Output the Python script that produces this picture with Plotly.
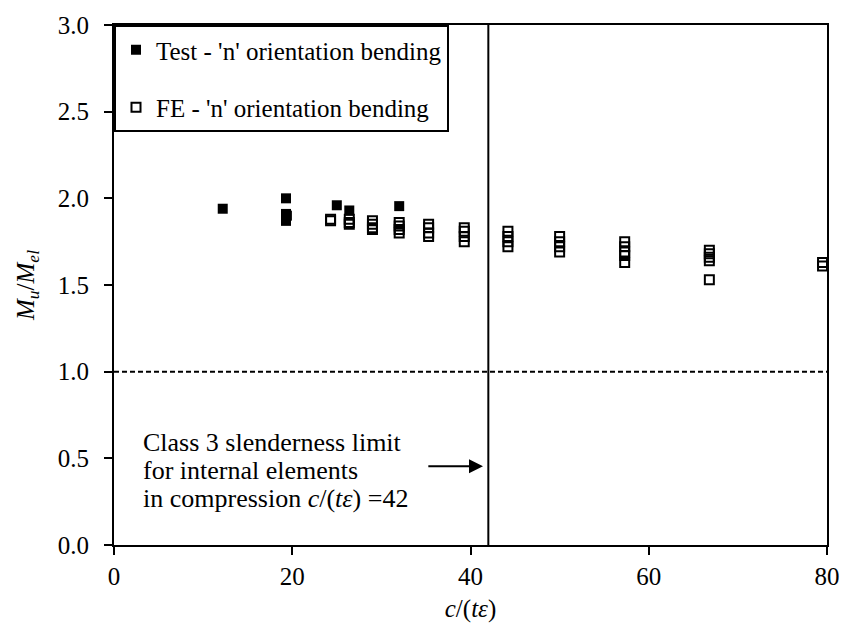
import plotly.graph_objects as go

# Test results, 'n' orientation bending
test_x = [12.2, 19.3, 19.3, 19.4, 19.3, 25.0, 26.4, 32.0]
test_y = [1.94, 2.00, 1.91, 1.90, 1.87, 1.96, 1.93, 1.955]

# FE results, 'n' orientation bending
fe_x = [24.3, 24.3,
        26.4, 26.4, 26.4,
        29.0, 29.0, 29.0, 29.0,
        32.0, 32.0, 32.0, 32.0,
        35.3, 35.3, 35.3, 35.3,
        39.3, 39.3, 39.3, 39.3,
        44.2, 44.2, 44.2, 44.2,
        50.0, 50.0, 50.0, 50.0,
        57.3, 57.3, 57.3, 57.3, 57.3,
        66.8, 66.8, 66.8, 66.8, 66.8,
        79.5, 79.5]
fe_y = [1.88, 1.87,
        1.88, 1.86, 1.85,
        1.87, 1.85, 1.83, 1.82,
        1.86, 1.84, 1.82, 1.80,
        1.85, 1.83, 1.80, 1.78,
        1.83, 1.81, 1.78, 1.75,
        1.81, 1.78, 1.75, 1.72,
        1.78, 1.75, 1.72, 1.69,
        1.75, 1.72, 1.69, 1.67, 1.63,
        1.70, 1.68, 1.66, 1.64, 1.53,
        1.63, 1.61]

class3_limit = 42
unity = 1.0
arrow_y = 0.455
arrow_start = 35.1

note_lines = ["Class 3 slenderness limit",
              "for internal elements",
              "in compression <i>c</i>/(<i>t\u03b5</i>) =42"]
note_y = [0.589, 0.427, 0.266]
note_x = 3.0

FONT = "Liberation Serif"
FS = 25

fig = go.Figure()
fig.add_trace(go.Scatter(
    x=test_x, y=test_y, mode="markers",
    name="Test - 'n' orientation bending", legendgroup="test",
    marker=dict(symbol="square", size=10, color="black"),
))
fig.add_trace(go.Scatter(
    x=fe_x, y=fe_y, mode="markers",
    name="FE - 'n' orientation bending", legendgroup="fe",
    marker=dict(symbol="square-open", size=9, color="black",
                line=dict(width=2, color="black")),
))

# Class 3 limit and unity line
fig.add_shape(type="line", xref="x", yref="y", x0=class3_limit, x1=class3_limit,
              y0=0, y1=3, line=dict(color="black", width=2))
fig.add_shape(type="line", xref="x", yref="y", x0=0, x1=80, y0=unity, y1=unity,
              line=dict(color="black", width=2, dash="5px,3px"))

fig.add_annotation(
    x=class3_limit - 0.6, y=arrow_y, ax=arrow_start, ay=arrow_y,
    xref="x", yref="y", axref="x", ayref="y",
    showarrow=True, arrowhead=2, arrowsize=1.4, arrowwidth=2, arrowcolor="black",
    text="",
)
for line, ly in zip(note_lines, note_y):
    fig.add_annotation(
        x=note_x, y=ly, xref="x", yref="y", xanchor="left", yanchor="middle",
        align="left", showarrow=False, text=line,
        font=dict(family=FONT, size=26, color="black"),
    )

axis_common = dict(
    showline=True, linecolor="black", linewidth=2, mirror=True,
    ticks="outside", ticklen=8, tickwidth=2, tickcolor="black",
    showgrid=False, zeroline=False,
    tickfont=dict(family=FONT, size=FS, color="black"),
)

fig.update_xaxes(range=[0, 80], dtick=20, tick0=0,
                 title=dict(text="<i>c</i>/(<i>t\u03b5</i>)", standoff=10,
                            font=dict(family=FONT, size=FS, color="black")),
                 **axis_common)
fig.update_yaxes(range=[0, 3], dtick=0.5, tick0=0, tickformat=".1f",
                 ticklabelstandoff=10,
                 title=dict(text="<i>M<sub>u</sub></i>/<i>M<sub>el</sub></i>", standoff=16,
                            font=dict(family=FONT, size=FS, color="black")),
                 **axis_common)

fig.update_layout(
    width=852, height=630,
    margin=dict(l=114, r=19, t=18, b=83),
    paper_bgcolor="white", plot_bgcolor="white",
    font=dict(family=FONT, size=FS, color="black"),
    showlegend=True,
    legend=dict(x=0, y=1, xanchor="left", yanchor="top",
                bordercolor="black", borderwidth=2, bgcolor="white",
                traceorder="grouped", tracegroupgap=22,
                font=dict(family=FONT, size=FS, color="black"),
                itemwidth=30),
)

fig.write_html("out.html")
